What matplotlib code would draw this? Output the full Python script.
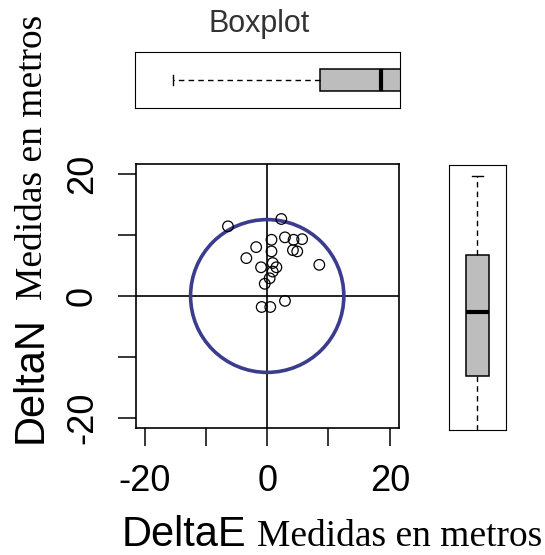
import numpy as np
import matplotlib
matplotlib.use('Agg')
import matplotlib.pyplot as plt
from matplotlib.patches import Circle

# === Data ===
delta_e = [-6.4, 2.3, 0.7, 2.9, 4.3, 5.7, -1.8, 0.7, 4.2, 4.9, -3.4,
           8.5, -1.0, 0.9, 1.5, 0.9, 0.4, -0.4, -0.9, 0.5, 2.9]
delta_n = [11.4, 12.6, 9.2, 9.6, 9.2, 9.3, 8.0, 7.3, 7.5, 7.3, 6.2,
           5.1, 4.7, 5.4, 4.7, 4.0, 2.9, 2.0, -1.8, -1.8, -0.8]
radius = 12.5

# boxplot stats as drawn (whisker low, q1, median, q3, whisker high)
box_e = dict(whislo=-15.3, q1=8.5, med=18.4, q3=30.0, whishi=30.0)
box_n = dict(whislo=-30.0, q1=-12.8, med=-2.4, q3=7.0, whishi=19.8)

tick_vals = [-20, -10, 0, 10, 20]
tick_labels = ['-20', '', '0', '', '20']
xlim = (-21.4, 21.5)
ylim = (-21.6, 21.6)

plt.rcParams['font.family'] = ['Liberation Sans', 'DejaVu Sans']
W, H = 545, 555
fig = plt.figure(figsize=(W / 100, H / 100), dpi=100)


def px_axes(x0, y0, x1, y1):
    return fig.add_axes([x0 / W, 1 - y1 / H, (x1 - x0) / W, (y1 - y0) / H])


# === Main scatter ===
ax = px_axes(136, 164, 399, 428)
ax.set_xlim(*xlim)
ax.set_ylim(*ylim)
ax.add_patch(Circle((0, 0), radius, fill=False, ec='#3c3c8e', lw=2.6, zorder=2))
ax.axhline(0, color='black', lw=1.2, zorder=1)
ax.axvline(0, color='black', lw=1.2, zorder=1)
ax.scatter(delta_e, delta_n, s=58, facecolors='none', edgecolors='black',
           linewidths=0.9, zorder=3)
ax.set_xticks(tick_vals)
ax.set_xticklabels(tick_labels, fontsize=26)
ax.set_yticks(tick_vals)
ax.set_yticklabels(tick_labels, fontsize=26, rotation=90, va='center')
ax.tick_params(length=13, width=1.1, pad=13)
for s in ax.spines.values():
    s.set_linewidth(1.2)

# axis titles (sans name + serif units on the same line)
fig.text(122 / W, 1 - 546 / H, 'DeltaE', fontsize=30, ha='left', va='baseline')
fig.text(257 / W, 1 - 546 / H, 'Medidas en metros', fontsize=27,
         family='Liberation Serif', ha='left', va='baseline')
fig.text(42 / W, 1 - 443 / H, 'DeltaN', fontsize=30, rotation=90,
         ha='left', va='baseline', rotation_mode='anchor')
fig.text(42 / W, 1 - 300 / H, 'Medidas en metros', fontsize=27, rotation=90,
         family='Liberation Serif', ha='left', va='baseline',
         rotation_mode='anchor')

# === Top boxplot (DeltaE) ===
axt = px_axes(135, 52, 400, 108)
axt.bxp([box_e], vert=False, widths=0.39, patch_artist=True,
        boxprops=dict(facecolor='#bdbdbd', edgecolor='black', lw=1.1),
        medianprops=dict(color='black', lw=3),
        whiskerprops=dict(color='black', lw=1.0, ls=(0, (4, 3))),
        capprops=dict(color='black', lw=1.0), showfliers=False)
axt.set_xlim(*xlim)
axt.set_ylim(0.5, 1.5)
axt.set_xticks([])
axt.set_yticks([])
fig.text(259 / W, 1 - 32 / H, 'Boxplot', fontsize=22, color='#333333',
         ha='center', va='baseline')

# === Right boxplot (DeltaN) ===
axr = px_axes(449, 165, 506, 430)
axr.bxp([box_n], vert=True, widths=0.39, patch_artist=True,
        boxprops=dict(facecolor='#bdbdbd', edgecolor='black', lw=1.1),
        medianprops=dict(color='black', lw=3),
        whiskerprops=dict(color='black', lw=1.0, ls=(0, (4, 3))),
        capprops=dict(color='black', lw=1.0), showfliers=False)
axr.set_ylim(*ylim)
axr.set_xlim(0.5, 1.5)
axr.set_xticks([])
axr.set_yticks([])

fig.savefig('out.png', dpi=100)
